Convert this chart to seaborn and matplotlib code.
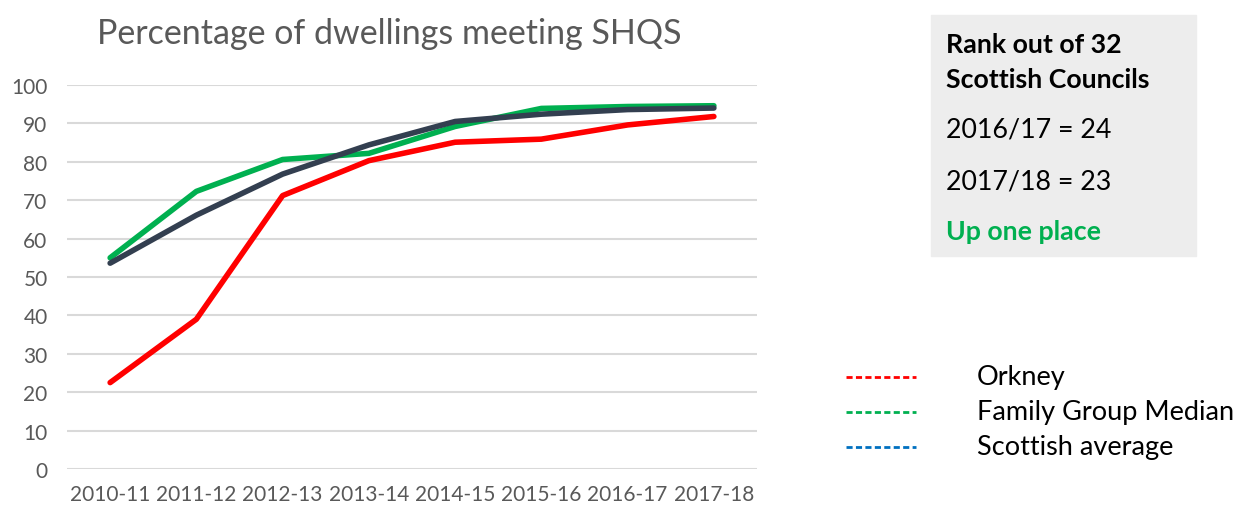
import pandas as pd
import seaborn as sns
from matplotlib import pyplot as plt
from matplotlib.patches import Rectangle
from matplotlib.lines import Line2D

years = ["2010-11", "2011-12", "2012-13", "2013-14", "2014-15", "2015-16", "2016-17", "2017-18"]
orkney = [22.5, 39.0, 71.2, 80.3, 85.1, 85.9, 89.6, 91.8]
family_median = [55.0, 72.3, 80.6, 82.2, 89.2, 93.9, 94.4, 94.6]
scottish_avg = [53.6, 66.1, 76.8, 84.4, 90.5, 92.4, 93.6, 94.0]

series_names = ["Orkney", "Family Group Median", "Scottish average"]
line_colors = ["#FF0000", "#00B050", "#333F50"]
legend_colors = ["#FF0000", "#00B050", "#0070C0"]

df = pd.DataFrame({
    "year": years * 3,
    "series": [series_names[0]] * 8 + [series_names[1]] * 8 + [series_names[2]] * 8,
    "value": orkney + family_median + scottish_avg,
})
df["pos"] = df["year"].map({y: i for i, y in enumerate(years)})

sns.set_theme(style="white")
plt.rcParams["font.family"] = ["Lato", "DejaVu Sans"]

fig = plt.figure(figsize=(12.38, 5.10), dpi=100)
ax = fig.add_axes([67 / 1238, 40 / 510, 690 / 1238, 384 / 510])

sns.lineplot(data=df, x="pos", y="value", hue="series", hue_order=series_names,
             palette=line_colors, linewidth=4, ax=ax, legend=False,
             solid_capstyle="round", solid_joinstyle="round")

ax.set_xlim(-0.5, 7.5)
ax.set_ylim(0, 100)
ax.set_yticks(range(0, 101, 10))
ax.set_xticks(range(len(years)))
ax.set_xticklabels(years)
ax.yaxis.grid(True, color="#D9D9D9", linewidth=1.5)
ax.set_axisbelow(True)
for s in ax.spines.values():
    s.set_visible(False)
ax.tick_params(axis="both", length=0, labelsize=15, labelcolor="#595959")
ax.tick_params(axis="x", pad=11)
ax.tick_params(axis="y", pad=14)
ax.set_xlabel("")
ax.set_ylabel("")

fig.text(97 / 1238, 1 - 34 / 510, "Percentage of dwellings meeting SHQS",
         fontsize=24.5, color="#595959", va="center", ha="left")

# info box
fig.patches.append(Rectangle((931 / 1238, 1 - 257 / 510), 265 / 1238, 241 / 510,
                             transform=fig.transFigure, color="#EDEDED", zorder=0))
box_lines = [
    ("Rank out of 32", 45, "bold", "black"),
    ("Scottish Councils", 80, "bold", "black"),
    ("2016/17 = 24", 130, "normal", "black"),
    ("2017/18 = 23", 182, "normal", "black"),
    ("Up one place", 232, "bold", "#00B050"),
]
for txt, y, w, c in box_lines:
    fig.text(946 / 1238, 1 - y / 510, txt, fontsize=19.3, fontweight=w, color=c,
             va="center", ha="left")

# legend
for i, (name, col) in enumerate(zip(series_names, legend_colors)):
    y = 1 - (378 + 35 * i) / 510
    fig.add_artist(Line2D([846 / 1238, 916 / 1238], [y, y], transform=fig.transFigure,
                          color=col, linewidth=2, dashes=(2.2, 1.2)))
    fig.text(977 / 1238, y, name, fontsize=19.5, color="black", va="center", ha="left")

fig.savefig("out.png", dpi=100)
